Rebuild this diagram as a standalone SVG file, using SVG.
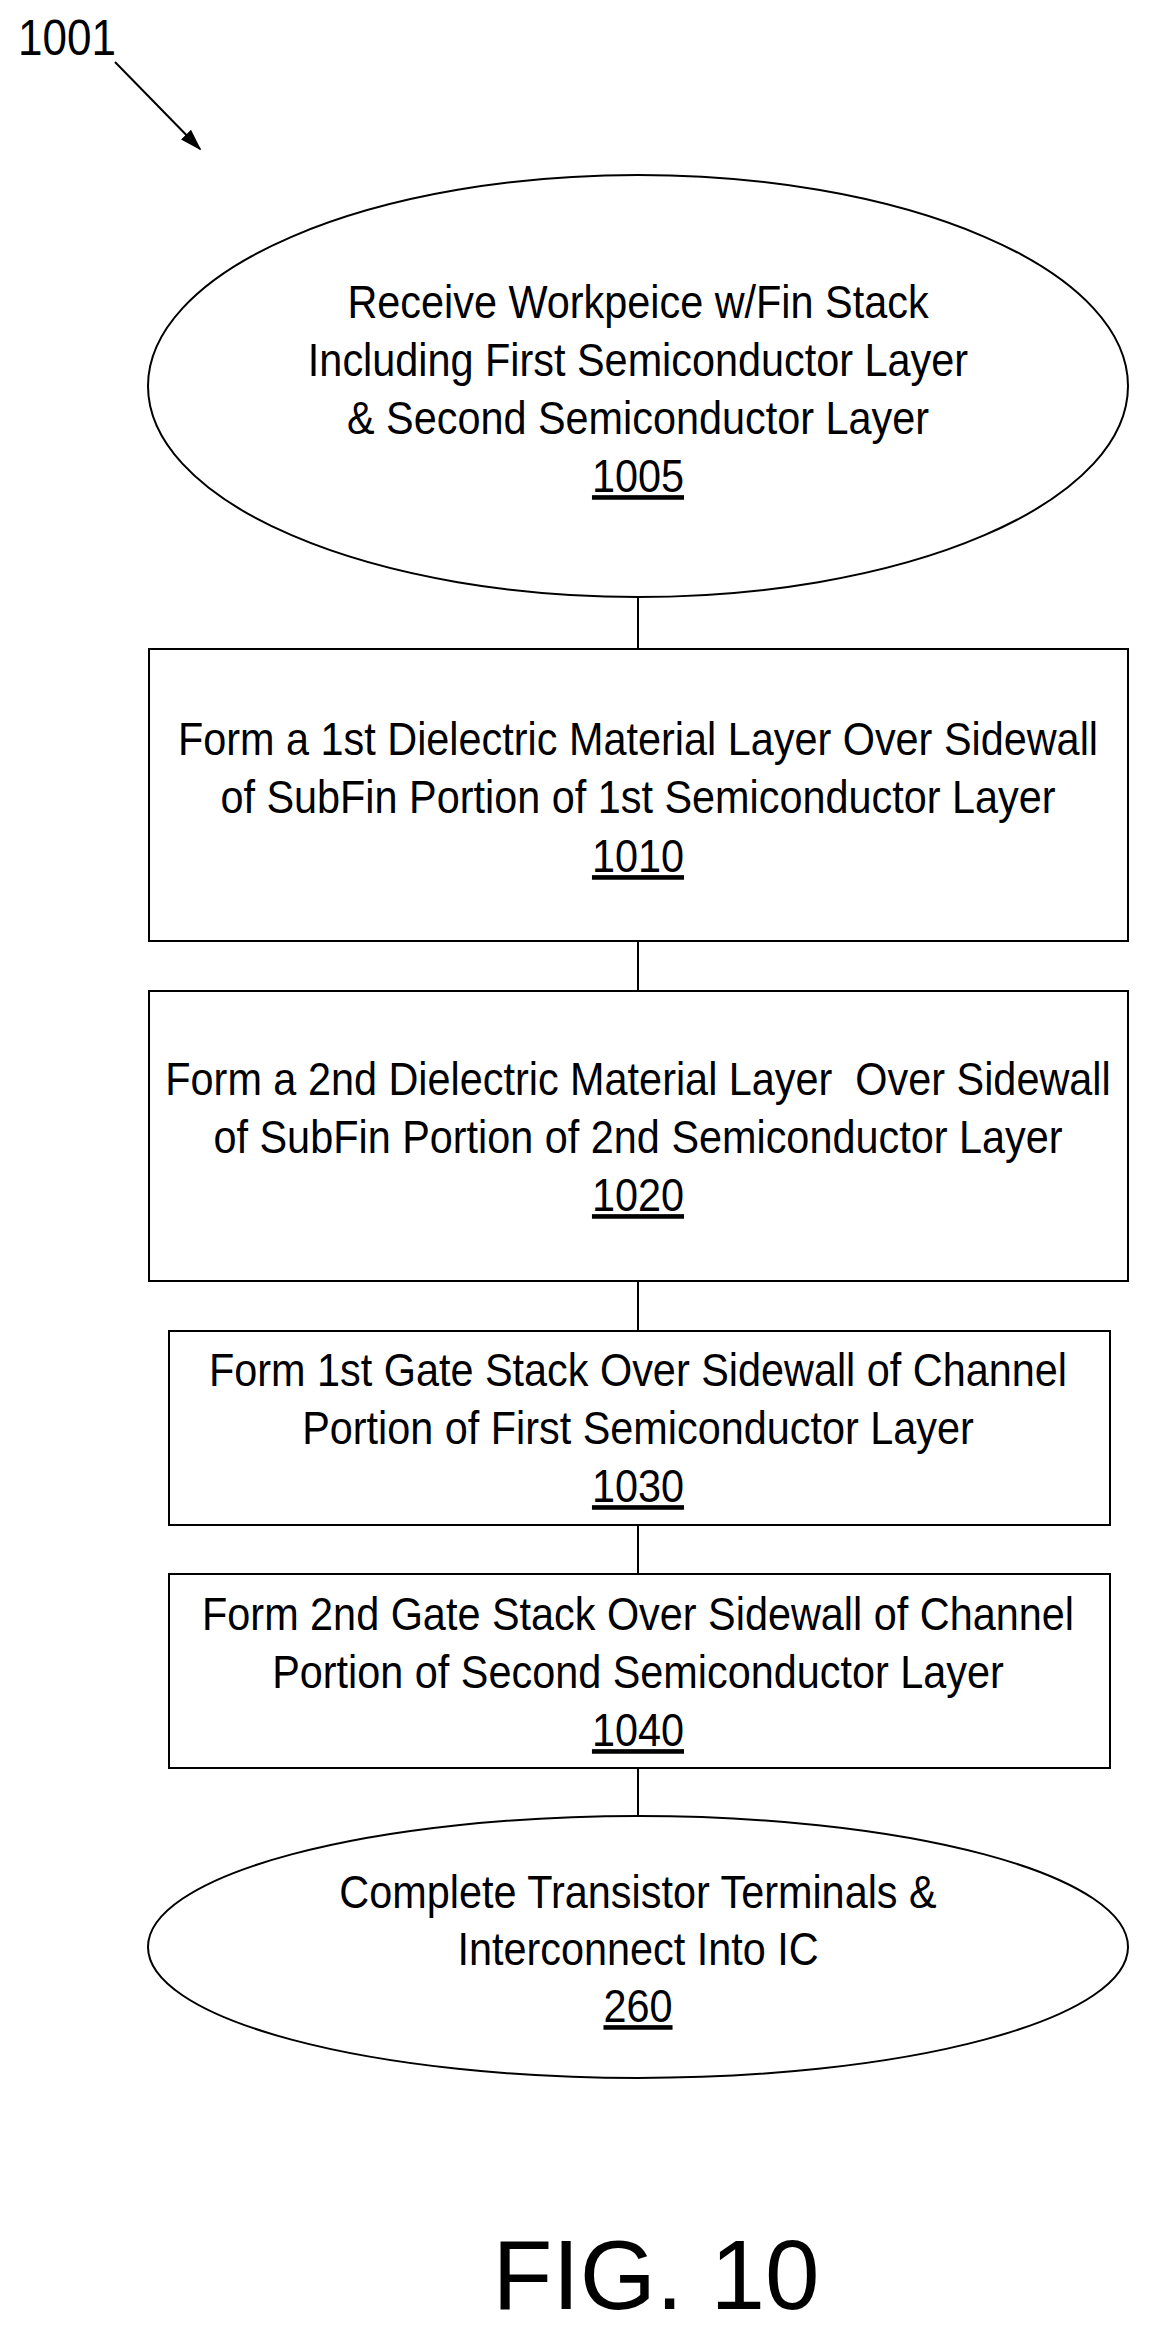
<svg xmlns="http://www.w3.org/2000/svg" width="1154" height="2330" viewBox="0 0 1154 2330">
<style>
.s{fill:none;stroke:#000;stroke-width:2}
.t{font-family:"Liberation Sans Narrow","Liberation Sans",Arial,sans-serif;font-size:46px;text-anchor:middle;fill:#000}
.u{text-decoration:underline}
</style>
<defs>
<marker id="ah2" markerWidth="22" markerHeight="16" refX="20" refY="8" orient="auto" markerUnits="userSpaceOnUse"><path d="M0,1 L22,8 L0,15 z" fill="#000"/></marker></defs>
<rect width="1154" height="2330" fill="#fff"/>
<text x="18" y="55" transform="translate(18,0) scale(0.88,1) translate(-18,0)" style="font-family:'Liberation Sans Narrow','Liberation Sans',sans-serif;font-size:50px">1001</text>
<g id="connectors">
<line x1="115" y1="62" x2="200" y2="149" stroke="#000" stroke-width="2" marker-end="url(#ah2)"/>
<line class="s" x1="638" y1="597" x2="638" y2="649"/>
<line class="s" x1="638" y1="941" x2="638" y2="991"/>
<line class="s" x1="638" y1="1281" x2="638" y2="1331"/>
<line class="s" x1="638" y1="1525" x2="638" y2="1574"/>
<line class="s" x1="638" y1="1768" x2="638" y2="1816"/>
</g>
<g id="n1005"><ellipse class="s" cx="638" cy="386" rx="490" ry="211"/>
<g transform="translate(638,0) scale(0.9,1) translate(-638,0)">
<text class="t" x="638" y="318">Receive Workpeice w/Fin Stack</text>
<text class="t" x="638" y="376">Including First Semiconductor Layer</text>
<text class="t" x="638" y="434">&amp; Second Semiconductor Layer</text>
<text class="t u" x="638" y="492">1005</text></g></g>
<g id="n1010"><rect class="s" x="149" y="649" width="979" height="292"/>
<g transform="translate(638,0) scale(0.9,1) translate(-638,0)">
<text class="t" x="638" y="755">Form a 1st Dielectric Material Layer Over Sidewall</text>
<text class="t" x="638" y="813">of SubFin Portion of 1st Semiconductor Layer</text>
<text class="t u" x="638" y="872">1010</text></g></g>
<g id="n1020"><rect class="s" x="149" y="991" width="979" height="290"/>
<g transform="translate(638,0) scale(0.9,1) translate(-638,0)">
<text class="t" x="638" y="1095" xml:space="preserve">Form a 2nd Dielectric Material Layer  Over Sidewall</text>
<text class="t" x="638" y="1153">of SubFin Portion of 2nd Semiconductor Layer</text>
<text class="t u" x="638" y="1211">1020</text></g></g>
<g id="n1030"><rect class="s" x="169" y="1331" width="941" height="194"/>
<g transform="translate(638,0) scale(0.9,1) translate(-638,0)">
<text class="t" x="638" y="1386">Form 1st Gate Stack Over Sidewall of Channel</text>
<text class="t" x="638" y="1444">Portion of First Semiconductor Layer</text>
<text class="t u" x="638" y="1502">1030</text></g></g>
<g id="n1040"><rect class="s" x="169" y="1574" width="941" height="194"/>
<g transform="translate(638,0) scale(0.9,1) translate(-638,0)">
<text class="t" x="638" y="1630">Form 2nd Gate Stack Over Sidewall of Channel</text>
<text class="t" x="638" y="1688">Portion of Second Semiconductor Layer</text>
<text class="t u" x="638" y="1746">1040</text></g></g>
<g id="n260"><ellipse class="s" cx="638" cy="1947" rx="490" ry="131"/>
<g transform="translate(638,0) scale(0.9,1) translate(-638,0)">
<text class="t" x="638" y="1908">Complete Transistor Terminals &amp;</text>
<text class="t" x="638" y="1965">Interconnect Into IC</text>
<text class="t u" x="638" y="2022">260</text></g></g>
<text x="656" y="2309" text-anchor="middle" style="font-family:'Liberation Sans',Arial,sans-serif;font-size:98px">FIG. 10</text>
</svg>
